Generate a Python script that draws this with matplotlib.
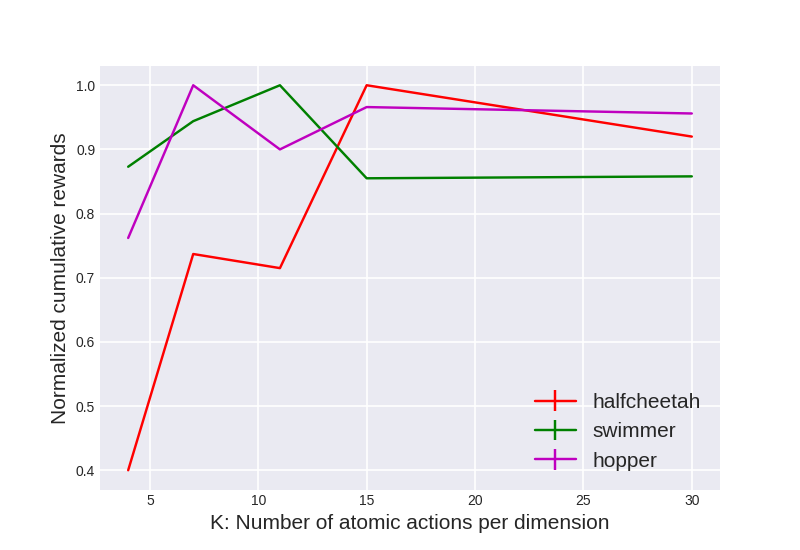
import numpy as np
import matplotlib
matplotlib.use("Agg")
import matplotlib.pyplot as plt

K = [4, 7, 11, 15, 30]
halfcheetah = [0.400, 0.737, 0.715, 1.000, 0.920]
swimmer = [0.873, 0.944, 1.000, 0.855, 0.858]
hopper = [0.762, 1.000, 0.900, 0.966, 0.956]

plt.style.use("seaborn-v0_8-darkgrid")
plt.rcParams['font.family'] = ['Liberation Sans', 'DejaVu Sans']
plt.rcParams['grid.linewidth'] = 1.2

fig, ax = plt.subplots(figsize=(8, 5.5), dpi=100)
zeros = np.zeros(len(K))
ax.errorbar(K, halfcheetah, yerr=zeros, color='r', lw=1.75, label='halfcheetah')
ax.errorbar(K, swimmer, yerr=zeros, color='g', lw=1.75, label='swimmer')
ax.errorbar(K, hopper, yerr=zeros, color='m', lw=1.75, label='hopper')

ax.set_xlabel("K: Number of atomic actions per dimension", fontsize=15)
ax.set_ylabel("Normalized cumulative rewards", fontsize=15)
ax.legend(loc='lower right', fontsize=15)

fig.savefig("out.png")
